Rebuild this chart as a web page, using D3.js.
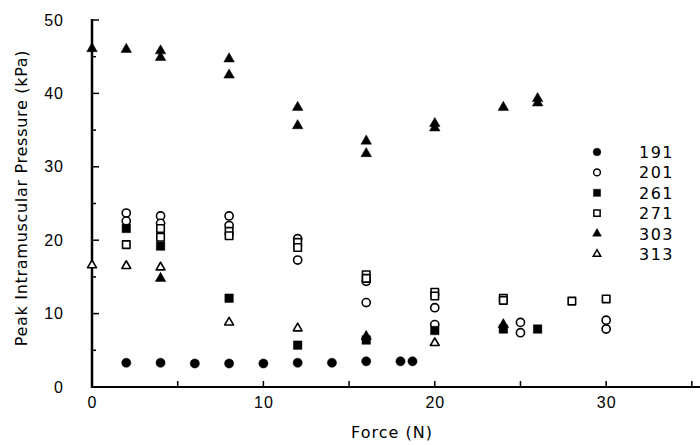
<!DOCTYPE html>
<html>
<head>
<meta charset="utf-8">
<script src="https://cdn.jsdelivr.net/npm/d3@7"></script>
<style>
body{margin:0;background:#fff}
svg{font-family:"DejaVu Sans",sans-serif}
.tick text{font-size:16px;fill:#000;letter-spacing:1px}
</style>
</head>
<body>
<svg id="graph"></svg>
<script>
// [force (N), pressure (kPa)] per subject
var s191=[[2,3.3],[4,3.3],[6,3.2],[8,3.2],[10,3.2],[12,3.3],[14,3.3],[16,3.5],[18,3.5],[18.7,3.5]]
var s201=[[2,23.7],[2,22.6],[4,23.3],[4,22.3],[8,23.3],[8,22.0],[12,20.2],[12,17.3],[16,14.4],[16,11.5],[20,10.8],[20,8.5],[25,8.8],[25,7.4],[30,9.1],[30,7.9]]
var s261=[[2,21.6],[4,19.2],[8,12.1],[12,5.7],[16,6.4],[20,7.7],[24,7.9],[26,7.9]]
var s271=[[2,19.4],[4,21.6],[4,20.4],[8,21.2],[8,20.6],[12,19.7],[12,19.0],[16,15.3],[16,14.8],[20,12.9],[20,12.4],[24,12.1],[24,11.8],[28,11.7],[30,12.0]]
var s303=[[0,46.1],[2,46.0],[4,45.8],[4,44.9],[4,14.8],[8,44.7],[8,42.5],[12,38.1],[12,35.6],[16,33.5],[16,31.8],[16,6.9],[20,35.9],[20,35.3],[24,38.1],[24,8.5],[26,39.3],[26,38.7]]
var s313=[[0,16.6],[2,16.5],[4,16.3],[8,8.8],[12,8.0],[20,6.0]]
var names=["191","201","261","271","303","313"]

var screen={width:700,height:445}
var margins={left:92,right:3,top:20,bottom:58}

var svg=d3.select("#graph")
    .attr("width",screen.width)
    .attr("height",screen.height)

var xScale=d3.scaleLinear()
    .domain([0,35.3])
    .range([margins.left,screen.width-margins.right])
var yScale=d3.scaleLinear()
    .domain([0,50])
    .range([screen.height-margins.bottom,margins.top])

var series=[
    {data:s191,shape:d3.symbolCircle,fill:true},
    {data:s201,shape:d3.symbolCircle,fill:false},
    {data:s261,shape:d3.symbolSquare,fill:true},
    {data:s271,shape:d3.symbolSquare,fill:false},
    {data:s303,shape:d3.symbolTriangle,fill:true},
    {data:s313,shape:d3.symbolTriangle,fill:false}
]
var sizeOf=function(shape,fill)
    {
        if(shape==d3.symbolCircle) return fill?66:52
        if(shape==d3.symbolSquare) return fill?72:56
        return fill?48:34
    }

// axes
var y0=yScale(0)
var xAxis=d3.axisBottom(xScale)
    .tickValues([0,10,20,30])
    .tickSize(0)
    .tickPadding(10)
    .tickFormat(d3.format("d"))
svg.append("g")
    .attr("transform","translate(0,"+y0+")")
    .call(xAxis)
    .call(function(g){g.select(".domain").remove()})
svg.append("line")
    .attr("x1",xScale(0)-1).attr("x2",screen.width)
    .attr("y1",y0).attr("y2",y0)
    .attr("stroke","#000").attr("stroke-width",2.2)
svg.append("g")
    .selectAll("line")
    .data([5,10,15,20,25,30,35])
    .enter()
    .append("line")
    .attr("x1",function(d){return xScale(d)})
    .attr("x2",function(d){return xScale(d)})
    .attr("y1",y0)
    .attr("y2",y0-6)
    .attr("stroke","#000").attr("stroke-width",1.5)

var yAxis=d3.axisLeft(yScale)
    .tickValues([0,10,20,30,40,50])
    .tickSize(0)
    .tickPadding(28)
svg.append("g")
    .attr("transform","translate("+xScale(0)+",0)")
    .call(yAxis)
    .call(function(g){g.select(".domain").remove()})
svg.append("line")
    .attr("x1",xScale(0)).attr("x2",xScale(0))
    .attr("y1",yScale(50)-1).attr("y2",y0+1)
    .attr("stroke","#000").attr("stroke-width",2.5)
svg.append("g")
    .selectAll("line")
    .data(d3.range(5,51,5))
    .enter()
    .append("line")
    .attr("x1",xScale(0))
    .attr("x2",function(d){return xScale(0)+(d%10==0?7:4)})
    .attr("y1",function(d){return yScale(d)})
    .attr("y2",function(d){return yScale(d)})
    .attr("stroke","#000").attr("stroke-width",1.5)

// points
series.forEach(function(s)
    {
        svg.append("g")
            .selectAll("path")
            .data(s.data)
            .enter()
            .append("path")
            .attr("d",d3.symbol().type(s.shape).size(sizeOf(s.shape,s.fill)))
            .attr("transform",function(d){return "translate("+xScale(d[0])+","+yScale(d[1])+")"})
            .attr("fill",s.fill?"#000":"#fff")
            .attr("stroke","#000")
            .attr("stroke-width",s.fill?0.5:1.6)
            .attr("stroke-linejoin","round")
    })

// legend
var legend=svg.append("g").attr("transform","translate(597,152)")
series.forEach(function(s,i)
    {
        var row=legend.append("g").attr("transform","translate(0,"+(i*20.4)+")")
        row.append("path")
            .attr("d",d3.symbol().type(s.shape).size(sizeOf(s.shape,s.fill)*0.7))
            .attr("fill",s.fill?"#000":"#fff")
            .attr("stroke","#000")
            .attr("stroke-width",s.fill?0.5:1.5)
        row.append("text")
            .text(names[i])
            .attr("x",42)
            .attr("y",6)
            .style("font-size","16px")
            .style("letter-spacing","1.5px")
    })

// labels
svg.append("text")
    .text("Force (N)")
    .attr("text-anchor","middle")
    .attr("x",392)
    .attr("y",438)
    .style("font-size","16px")
    .style("letter-spacing","1px")
svg.append("g")
    .attr("transform","translate(27,"+198+")")
    .append("text")
    .text("Peak Intramuscular Pressure (kPa)")
    .attr("text-anchor","middle")
    .attr("transform","rotate(-90)")
    .style("font-size","16px")
    .style("letter-spacing","0.7px")
</script>
</body>
</html>
